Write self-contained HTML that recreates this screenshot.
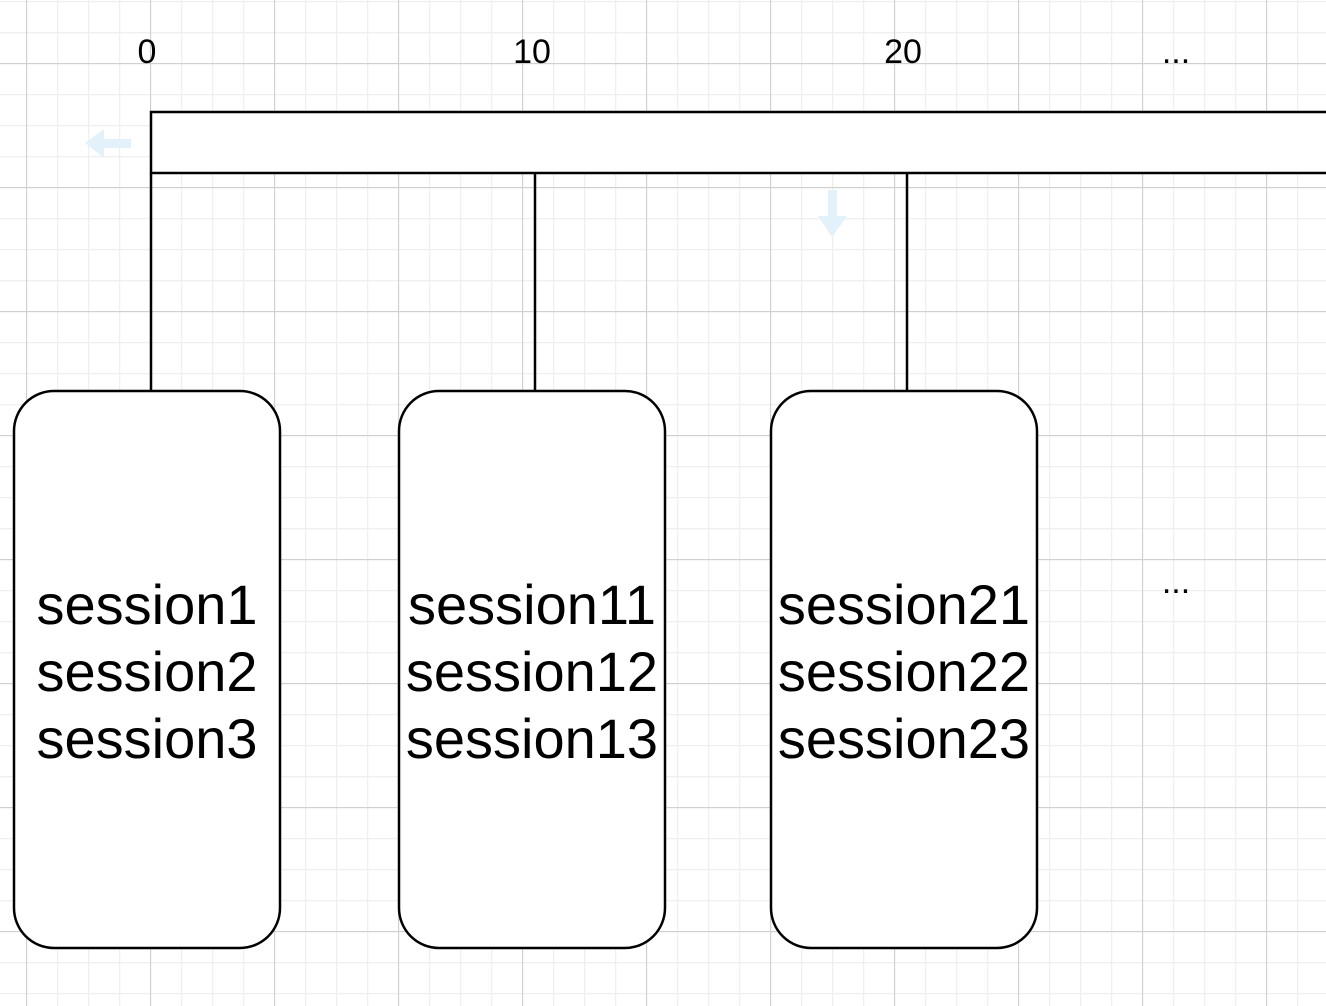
<!DOCTYPE html>
<html><head><style>html,body{margin:0;padding:0;background:#fff}svg{display:block}</style></head>
<body>
<svg width="1326" height="1006" xmlns="http://www.w3.org/2000/svg" font-family="Liberation Sans, Arial, sans-serif">
<defs>
<pattern id="minor" width="31" height="31" patternUnits="userSpaceOnUse" x="26" y="1">
<path d="M0.5 0V31M0 0.5H31" stroke="#efefef" stroke-width="1.5" fill="none"/>
</pattern>
<pattern id="major" width="124" height="124" patternUnits="userSpaceOnUse" x="26" y="63">
<path d="M0.5 0V124M0 0.5H124" stroke="#d0d0d0" stroke-width="1.2" fill="none"/>
</pattern>
</defs>
<rect width="1326" height="1006" fill="url(#minor)"/>
<rect width="1326" height="1006" fill="url(#major)"/>
<path d="M85 143 L104 129 V139 H131 V148 H104 V158 Z" fill="#e3f1fb"/>
<path d="M828 190 H837 V216 H847 L832 237 L818 216 H828 Z" fill="#e3f1fb"/>
<g font-size="34" fill="#000" text-anchor="middle">
<text x="147" y="63">0</text>
<text x="532" y="63">10</text>
<text x="903" y="63">20</text>
<text x="1176" y="63">...</text>
<text x="1176" y="593">...</text>
</g>
<rect x="151" y="112" width="1200" height="61" fill="#fff" stroke="#000" stroke-width="2.5"/>
<g stroke="#000" stroke-width="2.5">
<line x1="151" y1="173" x2="151" y2="391"/>
<line x1="535" y1="173" x2="535" y2="391"/>
<line x1="907" y1="173" x2="907" y2="391"/>
</g>
<g fill="#fff" stroke="#000" stroke-width="2.5">
<rect x="14" y="391" width="266" height="557" rx="40"/>
<rect x="399" y="391" width="266" height="557" rx="40"/>
<rect x="771" y="391" width="266" height="557" rx="40"/>
</g>
<g font-size="56" fill="#000" text-anchor="middle">
<text x="147" y="624">session1</text>
<text x="147" y="691">session2</text>
<text x="147" y="758">session3</text>
<text x="532" y="624">session11</text>
<text x="532" y="691">session12</text>
<text x="532" y="758">session13</text>
<text x="904" y="624">session21</text>
<text x="904" y="691">session22</text>
<text x="904" y="758">session23</text>
</g>
</svg>
</body></html>
